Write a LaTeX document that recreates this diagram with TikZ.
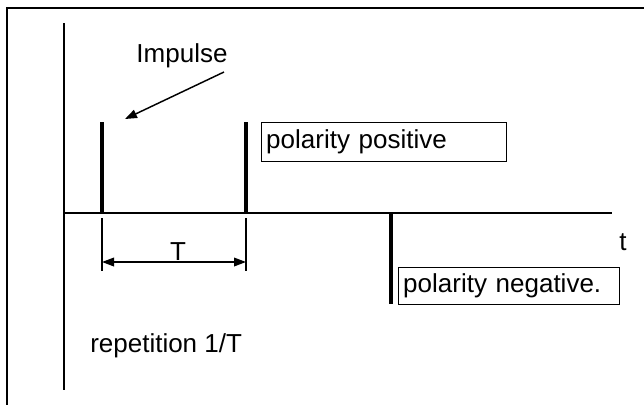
\documentclass[tikz,border=0pt]{standalone}
\usepackage{fontspec}
\setmainfont{Liberation Sans}
\usetikzlibrary{arrows.meta}
\begin{document}
\begin{tikzpicture}[x=0.75pt,y=-0.75pt,
  lbl/.style={font=\fontsize{19.5pt}{23pt}\selectfont, inner sep=0pt},
  framestyle/.style={line width=1.5pt},
  axis/.style={line width=1.5pt},
  pulse/.style={line width=3.4pt},
  thin/.style={line width=1.1pt},
  tagbox/.style={draw, line width=1.1pt, font=\fontsize{19.5pt}{23pt}\selectfont, anchor=north west, align=left, inner xsep=3pt, inner ysep=0pt},
  tip/.style={-{Triangle[length=9pt,width=6.5pt]}}
]
\useasboundingbox (0,0) rectangle (644,405);
% outer frame (top and left)
\coordinate (fTL) at (7,8);
\coordinate (fTR) at (644,8);
\coordinate (fBL) at (7,405);
\draw[framestyle] (fTR) -- (fTL) -- (fBL);
% axes
\coordinate (vTop) at (64,23);
\coordinate (vBot) at (64,390);
\coordinate (hL) at (64,213);
\coordinate (hR) at (612,213);
\draw[axis] (vTop) -- (vBot);
\draw[axis] (hL) -- (hR);
% impulses
\coordinate (p1b) at (102,213); \coordinate (p1t) at (102,122);
\coordinate (p2b) at (246,213); \coordinate (p2t) at (246,122);
\coordinate (p3t) at (391,213); \coordinate (p3b) at (391,304);
\draw[pulse] (p1b) -- (p1t);
\draw[pulse] (p2b) -- (p2t);
\draw[pulse] (p3t) -- (p3b);
% ticks for T
\coordinate (k1t) at (102,218); \coordinate (k1b) at (102,271);
\coordinate (k2t) at (246,218); \coordinate (k2b) at (246,271);
\draw[thin] (k1t) -- (k1b);
\draw[thin] (k2t) -- (k2b);
\coordinate (aL) at (102,262); \coordinate (aR) at (246,262);
\draw[thin,{Triangle[length=9pt,width=6.5pt]}-{Triangle[length=9pt,width=6.5pt]}] (aL) -- (aR);
\node[lbl, anchor=base] (Tlbl) at (178,260) {T};
% Impulse label and arrow
\node[lbl, anchor=base] (imp) at (182,62) {Impulse};
\coordinate (impTip) at (125,119);
\coordinate (impStart) at (224,72);
\draw[thin,tip] (impStart) -- (impTip);
% boxes
\node[tagbox, minimum width=183.75pt, minimum height=29.25pt, text width=177pt] (pos) at (261,122) {polarity positive};
\node[tagbox, minimum width=165.75pt, minimum height=27.75pt, text width=159pt] (neg) at (398,267) {polarity negative.};
% t label
\node[lbl, anchor=base] (tlbl) at (623,250) {t};
% repetition
\node[lbl, anchor=base west] (rep) at (90,352) {repetition 1/T};
\end{tikzpicture}
\end{document}
